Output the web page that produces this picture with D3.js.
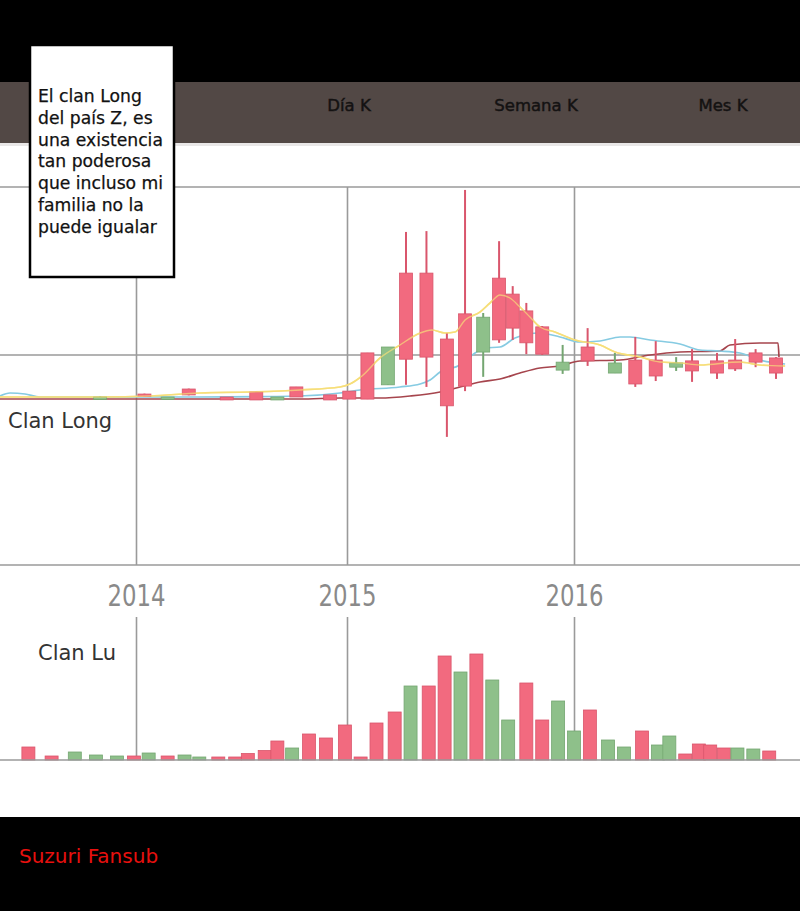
<!DOCTYPE html>
<html><head><meta charset="utf-8">
<script src="https://cdn.jsdelivr.net/npm/d3@7"></script>
<style>body{margin:0;background:#fff;} svg{display:block;}</style>
</head><body>
<svg id="c" width="800" height="911"></svg>
<script>
// ---------- data ----------
const tabs = ["Día K", "Semana K", "Mes K"];
const years = [2014, 2015, 2016];
const bubbleLines = ["El clan Long", "del país Z, es", "una existencia", "tan poderosa", "que incluso mi", "familia no la", "puede igualar"];
const panelLabels = ["Clan Long", "Clan Lu"];
const credit = "Suzuri Fansub";

// candles (time in fractional years)
const candleT     = [2013.83,2014.04,2014.15,2014.25,2014.43,2014.57,2014.67,2014.76,2014.92,2015.01,2015.09,2015.18,2015.26,2015.35,2015.44,2015.52,2015.60,2015.67,2015.73,2015.79,2015.86,2015.95,2016.06,2016.18,2016.27,2016.36,2016.45,2016.52,2016.63,2016.71,2016.80,2016.89];
const candleOpen  = [40.0,40.2,40.0,40.5,39.3,39.3,40.0,40.0,39.3,39.5,39.5,51.9,49.0,49.5,37.9,42.6,59.0,53.6,56.4,52.9,50.2,48.3,48.6,48.1,43.1,45.0,48.1,46.2,45.7,46.7,48.3,45.7];
const candleClose = [39.5,40.7,39.5,41.9,40.0,41.2,39.3,42.4,40.5,41.4,50.5,42.9,69.5,69.5,53.8,59.8,50.7,68.3,64.5,60.5,56.7,46.4,51.9,45.7,48.8,48.8,47.1,48.6,48.6,48.8,50.5,49.3];
const candleHigh  = [40.1,40.8,40.0,42.0,40.0,41.2,40.0,42.4,40.5,41.4,50.5,51.9,79.3,79.5,55.2,89.3,60.0,77.1,66.4,62.4,56.9,52.4,56.4,50.5,54.3,53.3,49.5,51.4,50.5,53.8,51.4,49.5];
const candleLow   = [39.4,40.1,39.4,40.4,39.3,39.3,39.3,40.0,39.3,39.5,39.5,42.9,42.9,42.4,30.5,41.4,44.8,52.9,53.6,50.2,50.0,45.5,47.4,45.7,42.4,43.8,46.2,43.6,44.3,46.2,47.1,44.3];

// moving averages
const maYellowT = [2013.355,2013.829,2014.066,2014.303,2014.540,2014.777,2014.967,2015.013,2015.066,2015.145,2015.233,2015.322,2015.374,2015.432,2015.476,2015.520,2015.586,2015.630,2015.674,2015.718,2015.762,2015.806,2015.850,2015.916,2016.004,2016.115,2016.181,2016.291,2016.379,2016.467,2016.555,2016.731,2016.819,2016.930];
const maYellowV = [40.00,40.00,40.24,40.95,41.19,41.67,42.38,43.10,45.00,49.29,52.38,55.24,55.95,55.24,55.48,58.33,60.24,62.38,64.29,63.57,61.43,59.05,56.67,55.48,53.57,52.38,50.71,49.52,48.33,48.10,47.62,48.33,47.62,47.38];
const maBlueT = [2013.355,2013.403,2013.474,2013.545,2013.829,2014.303,2014.777,2014.967,2015.057,2015.233,2015.322,2015.366,2015.410,2015.498,2015.564,2015.608,2015.674,2015.740,2015.850,2015.938,2016.026,2016.115,2016.203,2016.247,2016.335,2016.467,2016.555,2016.643,2016.731,2016.819,2016.930];
const maBlueV = [40.24,40.95,40.71,40.00,40.00,40.00,40.24,40.95,41.67,42.38,43.10,44.05,45.95,47.62,50.48,51.67,51.90,54.05,55.24,54.29,53.10,53.33,54.29,54.29,53.57,52.62,51.19,50.95,50.48,48.81,47.86];
const maRedT = [2013.355,2014.777,2014.967,2015.145,2015.278,2015.410,2015.498,2015.586,2015.674,2015.762,2015.850,2015.938,2016.026,2016.203,2016.335,2016.467,2016.643,2016.687,2016.819,2016.899,2016.903];
const maRedV = [39.52,39.52,39.76,39.76,40.24,41.19,42.38,43.57,44.29,45.71,46.90,47.38,48.57,48.81,50.00,50.71,50.95,52.38,52.86,52.86,49.52];

// volume
const volT = [2013.49,2013.60,2013.71,2013.81,2013.91,2013.99,2014.06,2014.15,2014.23,2014.30,2014.39,2014.47,2014.53,2014.61,2014.67,2014.74,2014.82,2014.90,2014.99,2015.06,2015.13,2015.21,2015.28,2015.36,2015.43,2015.50,2015.57,2015.64,2015.71,2015.79,2015.86,2015.93,2016.00,2016.07,2016.15,2016.22,2016.30,2016.37,2016.42,2016.49,2016.55,2016.60,2016.66,2016.72,2016.79,2016.86];
const volValue = [13,4,8,5,4,4,7,4,5,3,3,3,6.5,9.5,19,12,26,22,35,3,37,48,74,74,104,88,106,80,40,77,40,59,29,50,20,13,29,15,24,6,16,15,12,12,11,9];
const volDir = ["up","up","down","down","down","up","down","up","down","down","up","up","up","up","up","down","up","up","up","up","up","up","down","up","up","down","up","down","down","up","up","down","down","up","down","down","up","down","down","up","up","up","up","down","down","up"];

const priceGrid = [0, 50, 90];

// ---------- drawing ----------
const svg = d3.select("#c");
const RED = "#f26a7f", RED_D = "#d9566c", GREEN = "#8ec08a", GREEN_D = "#74a671";
const GRID = "#9a9a9a";

const x = d3.scaleLinear().domain([2014, 2015, 2016]).range([136, 347, 574]);
const y = d3.scaleLinear().domain([0, 90]).range([565, 187]);
const yv = d3.scaleLinear().domain([0, 110]).range([760, 650]);

// backgrounds
svg.append("rect").attr("x",0).attr("y",0).attr("width",800).attr("height",911).attr("fill","#fff");
svg.append("rect").attr("x",0).attr("y",0).attr("width",800).attr("height",82).attr("fill","#000");
svg.append("rect").attr("x",0).attr("y",82).attr("width",800).attr("height",61).attr("fill","#524845");
svg.append("rect").attr("x",0).attr("y",143).attr("width",800).attr("height",3).attr("fill","#e9e7e7");
svg.append("rect").attr("x",0).attr("y",817).attr("width",800).attr("height",94).attr("fill","#000");

// tabs
const tabX = d3.scalePoint().domain(tabs).range([349, 723]);
svg.append("g").selectAll("text").data(tabs).join("text")
  .attr("x", d => tabX(d)).attr("y", 111).attr("text-anchor","middle")
  .attr("font-family","DejaVu Sans, sans-serif").attr("font-size",16.5)
  .attr("fill","#141212").attr("stroke","#141212").attr("stroke-width",0.45)
  .text(d => d);

// horizontal grid (price panel)
svg.append("g").selectAll("line").data(priceGrid).join("line")
  .attr("x1",0).attr("x2",800).attr("y1",d=>y(d)).attr("y2",d=>y(d))
  .attr("stroke",GRID).attr("stroke-width",1.6);

// vertical grid (price panel)
const vg = svg.append("g").attr("transform",`translate(0,${y(0)})`)
  .call(d3.axisBottom(x).tickValues(years).tickSize(-(y(0)-y(90))).tickFormat(""));
vg.select(".domain").remove();
vg.selectAll("line").attr("stroke",GRID).attr("stroke-width",1.6);

// vertical grid (volume panel)
const vg2 = svg.append("g").attr("transform",`translate(0,${yv(0)})`)
  .call(d3.axisBottom(x).tickValues(years).tickSize(-(yv(0)-617)).tickFormat(""));
vg2.select(".domain").remove();
vg2.selectAll("line").attr("stroke",GRID).attr("stroke-width",1.6);

// year labels
const ya = svg.append("g").attr("transform",`translate(0,${y(0)})`)
  .call(d3.axisBottom(x).tickValues(years).tickSize(0).tickFormat(d3.format("d")));
ya.select(".domain").remove();
ya.selectAll("text").attr("y",41).attr("dy",0)
  .attr("font-family","DejaVu Sans, sans-serif").attr("font-size",30)
  .attr("textLength",58).attr("lengthAdjust","spacingAndGlyphs")
  .attr("fill","#8a8a8a");

// moving average lines
const line = d3.line().x(d=>x(d[0])).y(d=>y(d[1])).curve(d3.curveMonotoneX);
const mas = [
  {t: maRedT, v: maRedV, c: "#a6454d"},
  {t: maBlueT, v: maBlueV, c: "#86cbe2"},
  {t: maYellowT, v: maYellowV, c: "#f6de79"}
];
svg.append("g").selectAll("path").data(mas).join("path")
  .attr("d", m => line(d3.zip(m.t, m.v)))
  .attr("fill","none").attr("stroke", m => m.c).attr("stroke-width",1.7);

// candles
const candles = candleT.map((t,i)=>({t, o:candleOpen[i], c:candleClose[i], h:candleHigh[i], l:candleLow[i]}));
const cg = svg.append("g").selectAll("g").data(candles).join("g");
cg.append("line")
  .attr("x1",d=>x(d.t)).attr("x2",d=>x(d.t))
  .attr("y1",d=>y(d.h)).attr("y2",d=>y(d.l))
  .attr("stroke",d=>d.c>=d.o?RED_D:GREEN_D).attr("stroke-width",2);
cg.append("rect")
  .attr("x",d=>x(d.t)-6.5).attr("width",13)
  .attr("y",d=>y(Math.max(d.o,d.c)))
  .attr("height",d=>Math.max(2.5, Math.abs(y(d.o)-y(d.c))))
  .attr("fill",d=>d.c>=d.o?RED:GREEN)
  .attr("stroke",d=>d.c>=d.o?RED_D:GREEN_D).attr("stroke-width",0.8);

// yellow line passes visibly over candle bodies in the reference
svg.append("path").attr("d", line(d3.zip(maYellowT, maYellowV)))
  .attr("fill","none").attr("stroke","#f6de79").attr("stroke-width",1.4).attr("opacity",0.7);

// volume bars
const vols = volT.map((t,i)=>({t, v:volValue[i], d:volDir[i]}));
svg.append("g").selectAll("rect").data(vols).join("rect")
  .attr("x",d=>x(d.t)-6.5).attr("width",13)
  .attr("y",d=>yv(d.v)).attr("height",d=>yv(0)-yv(d.v))
  .attr("fill",d=>d.d==="up"?RED:GREEN)
  .attr("stroke",d=>d.d==="up"?RED_D:GREEN_D).attr("stroke-width",0.8);

// volume baseline
svg.append("line").attr("x1",0).attr("x2",800).attr("y1",yv(0)).attr("y2",yv(0))
  .attr("stroke",GRID).attr("stroke-width",1.6);

// panel labels
svg.append("text").attr("x",8).attr("y",428).attr("font-family","DejaVu Sans, sans-serif")
  .attr("font-size",21).attr("fill","#333").text(panelLabels[0]);
svg.append("text").attr("x",38).attr("y",660).attr("font-family","DejaVu Sans, sans-serif")
  .attr("font-size",21).attr("fill","#333").text(panelLabels[1]);

// speech box
svg.append("rect").attr("x",30).attr("y",45).attr("width",144).attr("height",232)
  .attr("fill","#fff").attr("stroke","#000").attr("stroke-width",2.5);
svg.append("g").selectAll("text").data(bubbleLines).join("text")
  .attr("x",38).attr("y",(d,i)=>102 + i*21.8)
  .attr("font-family","DejaVu Sans, sans-serif").attr("font-size",17.2)
  .attr("fill","#111").attr("stroke","#111").attr("stroke-width",0.25)
  .text(d=>d);

// credit
svg.append("text").attr("x",19).attr("y",863).attr("font-family","DejaVu Sans, sans-serif")
  .attr("font-size",20).attr("fill","#e8100e").text(credit);
</script>
</body></html>
